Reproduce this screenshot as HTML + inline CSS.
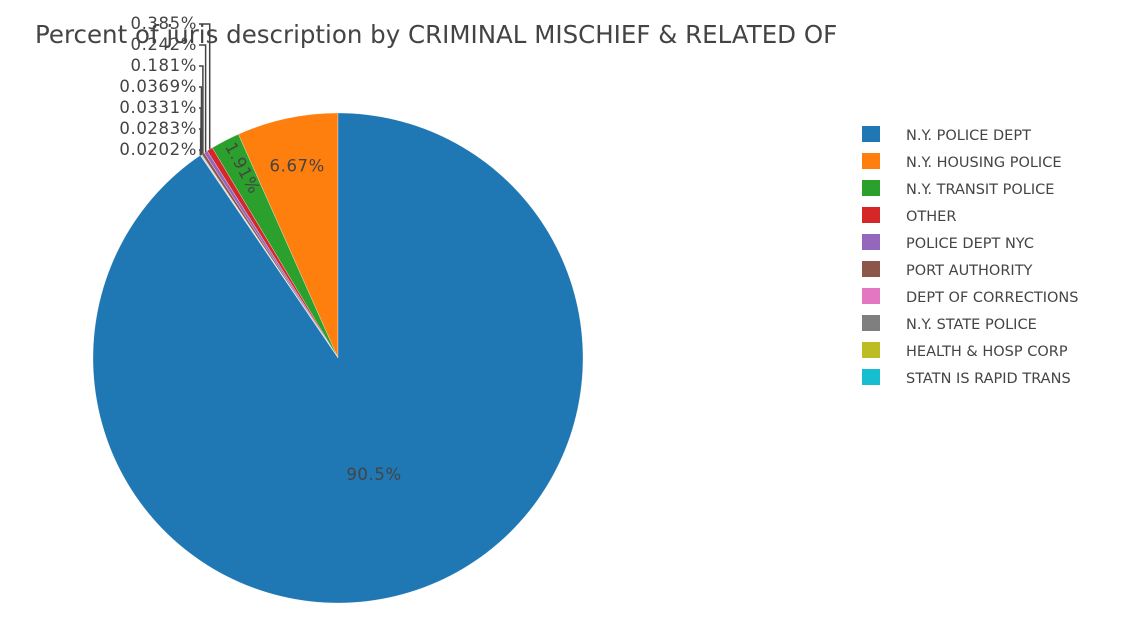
<!DOCTYPE html>
<html><head><meta charset="utf-8">
<style>
body{margin:0;background:#fff;}
svg{display:block;font-family:"DejaVu Sans","Liberation Sans",sans-serif;}
</style></head>
<body>
<svg id="chart" width="1143" height="617">
<text x="35" y="43" font-size="24.5" fill="#444">Percent of juris description by CRIMINAL MISCHIEF &amp; RELATED OF</text>
<g id="pie"></g>
<g id="legend"></g>
</svg>
<script>
const categories=["N.Y. POLICE DEPT","N.Y. HOUSING POLICE","N.Y. TRANSIT POLICE","OTHER","POLICE DEPT NYC","PORT AUTHORITY","DEPT OF CORRECTIONS","N.Y. STATE POLICE","HEALTH & HOSP CORP","STATN IS RAPID TRANS"];
const values=[90.5,6.67,1.91,0.385,0.242,0.181,0.0369,0.0331,0.0283,0.0202];
const labels=["90.5%","6.67%","1.91%","0.385%","0.242%","0.181%","0.0369%","0.0331%","0.0283%","0.0202%"];
const colors=["#1f77b4","#ff7f0e","#2ca02c","#d62728","#9467bd","#8c564b","#e377c2","#7f7f7f","#bcbd22","#17becf"];

const NS="http://www.w3.org/2000/svg";
const cx=338,cy=358,R=245;
const total=values.reduce((a,b)=>a+b,0);
const pie=document.getElementById('pie');
function pt(a,r){return [cx-r*Math.sin(a),cy-r*Math.cos(a)];}
const order=[1,2,3,4,5,6,7,8,9,0];
let start=0;const mids={};
order.forEach(i=>{
  const sweep=values[i]/total*2*Math.PI;
  const a0=start,a1=start+sweep;
  const p0=pt(a0,R),p1=pt(a1,R);
  const large=sweep>Math.PI?1:0;
  const path=document.createElementNS(NS,'path');
  path.setAttribute('d',`M${cx},${cy} L${p0[0]},${p0[1]} A${R},${R} 0 ${large} 0 ${p1[0]},${p1[1]} Z`);
  path.setAttribute('fill',colors[i]);
  path.setAttribute('stroke','#fff');
  path.setAttribute('stroke-width','0.3');
  
  
  pie.appendChild(path);
  mids[i]=(a0+a1)/2;
  start=a1;
});
function addText(x,y,s,anchor,rot){
  const t=document.createElementNS(NS,'text');
  t.setAttribute('x',x);t.setAttribute('y',y);
  t.setAttribute('font-size','16.5');t.setAttribute('fill','#444');
  t.setAttribute('text-anchor',anchor);
  t.setAttribute('letter-spacing','0.6');
  if(rot!==undefined)t.setAttribute('transform',`rotate(${rot} ${x} ${y})`);
  t.textContent=s;
  
  
  pie.appendChild(t);
}
{const p=pt(mids[0],R*0.5);addText(p[0],p[1]+5,labels[0],'middle');}
{const p=pt(mids[1],R*0.8);addText(p[0],p[1]+5,labels[1],'middle');}
{const p=pt(mids[2],R*0.88);addText(p[0]-1,p[1]+4,labels[2],'middle',62);}
for(let i=3;i<10;i++){
  const k=i-3;
  const ly=29+k*21;
  const p=pt(mids[i],R);
  const lx=197;
  const line=document.createElementNS(NS,'polyline');
  line.setAttribute('points',`${p[0]},${p[1]} ${p[0]},${ly-5} ${lx+2},${ly-5}`);
  line.setAttribute('fill','none');line.setAttribute('stroke','#444');line.setAttribute('stroke-width','1.5');
  
  
  pie.appendChild(line);
  addText(lx,ly,labels[i],'end');
}
const lg=document.getElementById('legend');
categories.forEach((c,i)=>{
  const y=126+i*27;
  const r=document.createElementNS(NS,'rect');
  r.setAttribute('x',862);r.setAttribute('y',y);r.setAttribute('width',18);r.setAttribute('height',16);
  r.setAttribute('fill',colors[i]);
  
  
  lg.appendChild(r);
  const t=document.createElementNS(NS,'text');
  t.setAttribute('x',906);t.setAttribute('y',y+14);t.setAttribute('font-size','14.5');t.setAttribute('fill','#444');
  t.textContent=c;
  
  
  lg.appendChild(t);
});
</script>
</body></html>
